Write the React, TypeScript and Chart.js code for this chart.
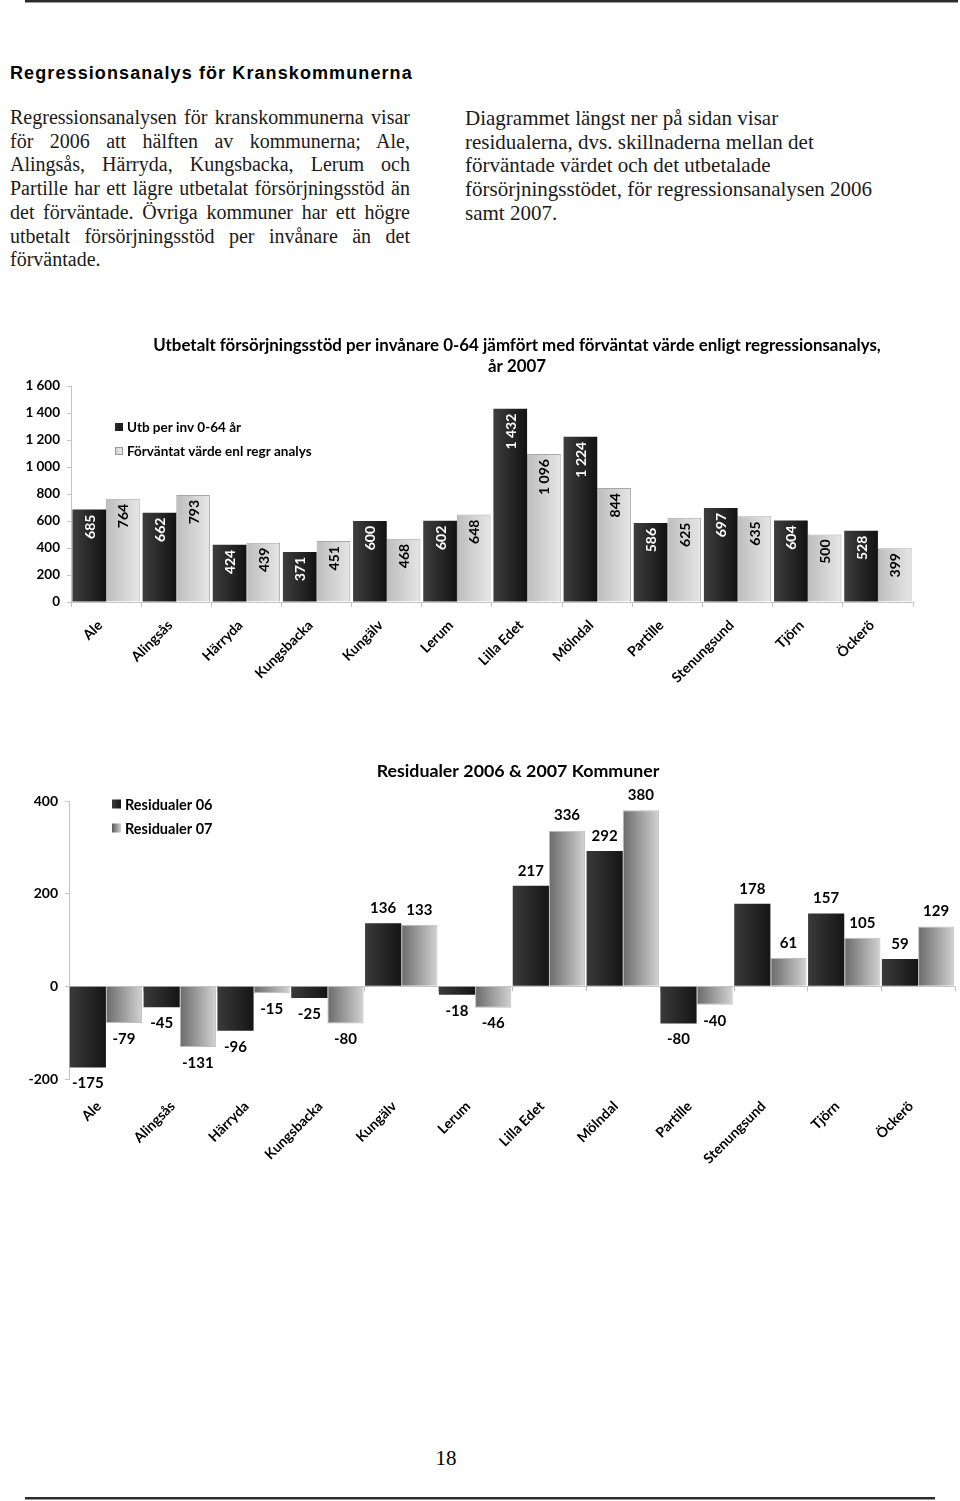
import React, { useEffect, useRef } from "react";
import { Chart, registerables } from "chart.js";
Chart.register(...registerables);

const FONT = "Lato, 'Open Sans', 'DejaVu Sans', sans-serif";
const SERIF = "'Liberation Serif', 'DejaVu Serif', serif";

const categories = ["Ale", "Alingsås", "Härryda", "Kungsbacka", "Kungälv", "Lerum", "Lilla Edet", "Mölndal", "Partille", "Stenungsund", "Tjörn", "Öckerö"];

// Chart 1
const utbLabel = "Utb per inv 0-64 år";
const forvLabel = "Förväntat värde enl regr analys";
const utbPerInv = [685, 662, 424, 371, 600, 602, 1432, 1224, 586, 697, 604, 528];
const forvantat = [764, 793, 439, 451, 468, 648, 1096, 844, 625, 635, 500, 399];
const chart1Title = ["Utbetalt försörjningsstöd per invånare 0-64 jämfört med förväntat värde enligt regressionsanalys,", "år 2007"];
const y1Min = 0;
const y1Max = 1600;
const y1Step = 200;

// Chart 2
const res06Label = "Residualer 06";
const res07Label = "Residualer 07";
const residualer06 = [-175, -45, -96, -25, 136, -18, 217, 292, -80, 178, 157, 59];
const residualer07 = [-79, -131, -15, -80, 133, -46, 336, 380, -40, 61, 105, 129];
const chart2Title = "Residualer 2006 & 2007 Kommuner";
const y2Min = -200;
const y2Max = 400;
const y2Step = 200;

const leftLines = [
  "Regressionsanalysen för kranskommunerna visar",
  "för 2006 att hälften av kommunerna; Ale,",
  "Alingsås, Härryda, Kungsbacka, Lerum och",
  "Partille har ett lägre utbetalat försörjningsstöd än",
  "det förväntade. Övriga kommuner har ett högre",
  "utbetalt försörjningsstöd per invånare än det",
  "förväntade.",
];
const rightLines = [
  "Diagrammet längst ner på sidan visar",
  "residualerna, dvs. skillnaderna mellan det",
  "förväntade värdet och det utbetalade",
  "försörjningsstödet, för regressionsanalysen 2006",
  "samt 2007.",
];

function fmt(v: number) {
  return String(v).replace(/\B(?=(\d{3})+(?!\d))/g, " ");
}

function gradFill(stops: [string, string], side: number, catPct: number) {
  return (c: any) => {
    const chart = c.chart;
    const area = chart.chartArea;
    const xs = chart.scales && chart.scales.x;
    if (!area || !xs || c.dataIndex === undefined) return stops[0];
    const n = chart.data.labels.length;
    const cw = (area.right - area.left) / n;
    const w = (cw * catPct) / 2;
    const center = xs.getPixelForValue(c.dataIndex);
    const x0 = side === 0 ? center - w : center;
    const g = chart.ctx.createLinearGradient(x0, 0, x0 + w, 0);
    g.addColorStop(0, stops[0]);
    g.addColorStop(1, stops[1]);
    return g;
  };
}

function makeTextPlugin(id: string, lines: { text: string; x: number; y: number; size: number }[]) {
  return {
    id,
    afterDraw(chart: any) {
      const ctx = chart.ctx;
      ctx.save();
      ctx.fillStyle = "#000";
      ctx.textAlign = "center";
      ctx.textBaseline = "middle";
      lines.forEach((l) => {
        ctx.font = `bold ${l.size}px ${FONT}`;
        ctx.fillText(l.text, l.x, l.y);
      });
      ctx.restore();
    },
  };
}

function makeLegendPlugin(id: string, items: { label: string; stops: [string, string]; border?: string }[], x: number, y0: number, dy: number, box: number, size: number) {
  return {
    id,
    afterDraw(chart: any) {
      const ctx = chart.ctx;
      ctx.save();
      items.forEach((it, i) => {
        const cy = y0 + i * dy;
        const g = ctx.createLinearGradient(x, 0, x + box, 0);
        g.addColorStop(0, it.stops[0]);
        g.addColorStop(1, it.stops[1]);
        ctx.fillStyle = g;
        ctx.fillRect(x, cy - box / 2, box, box);
        if (it.border) {
          ctx.strokeStyle = it.border;
          ctx.lineWidth = 1;
          ctx.strokeRect(x + 0.5, cy - box / 2 + 0.5, box - 1, box - 1);
        }
        ctx.fillStyle = "#000";
        ctx.font = `bold ${size}px ${FONT}`;
        ctx.textAlign = "left";
        ctx.textBaseline = "middle";
        ctx.fillText(it.label, x + box + 4, cy + 1);
      });
      ctx.restore();
    },
  };
}

const rotatedLabels = {
  id: "rotatedLabels",
  afterDatasetsDraw(chart: any) {
    const ctx = chart.ctx;
    chart.data.datasets.forEach((ds: any, di: number) => {
      const meta = chart.getDatasetMeta(di);
      meta.data.forEach((bar: any, i: number) => {
        const v = ds.data[i] as number;
        ctx.save();
        ctx.translate(bar.x, bar.y + 5);
        ctx.rotate(-Math.PI / 2);
        ctx.textAlign = "right";
        ctx.textBaseline = "middle";
        ctx.fillStyle = di === 0 ? "#ffffff" : "#000000";
        ctx.font = `bold 14px ${FONT}`;
        ctx.fillText(fmt(v), 0, 1);
        ctx.restore();
      });
    });
  },
};

const outsideLabels = {
  id: "outsideLabels",
  afterDatasetsDraw(chart: any) {
    const ctx = chart.ctx;
    chart.data.datasets.forEach((ds: any, di: number) => {
      const meta = chart.getDatasetMeta(di);
      meta.data.forEach((bar: any, i: number) => {
        const v = ds.data[i] as number;
        ctx.save();
        ctx.textAlign = "center";
        ctx.textBaseline = "middle";
        ctx.fillStyle = "#000";
        ctx.font = `bold 15px ${FONT}`;
        ctx.fillText(String(v), bar.x, v >= 0 ? bar.y - 15 : bar.y + 16);
        ctx.restore();
      });
    });
  },
};

const zeroTicks = {
  id: "zeroTicks",
  beforeDatasetsDraw(chart: any) {
    const ctx = chart.ctx;
    const xs = chart.scales.x;
    const ys = chart.scales.y;
    const y0 = ys.getPixelForValue(0);
    const n = chart.data.labels.length;
    ctx.save();
    ctx.strokeStyle = "#c0c0c0";
    ctx.lineWidth = 1;
    for (let i = 0; i <= n; i++) {
      const x = Math.round(xs.getPixelForValue(i - 0.5)) + 0.5;
      ctx.beginPath();
      ctx.moveTo(x, y0);
      ctx.lineTo(x, y0 + 5);
      ctx.stroke();
    }
    ctx.restore();
  },
};

function ChartOne() {
  const ref = useRef<HTMLCanvasElement | null>(null);
  useEffect(() => {
    if (!ref.current) return;
    const cat = 0.96;
    const tickFont = { family: FONT, weight: "bold" as const, size: 14 };
    const chart = new Chart(ref.current, {
      type: "bar",
      data: {
        labels: categories,
        datasets: [
          { label: utbLabel, data: utbPerInv, backgroundColor: gradFill(["#3e3e3e", "#121212"], 0, cat) as any, borderWidth: 0 },
          { label: forvLabel, data: forvantat, backgroundColor: gradFill(["#bdbdbd", "#e6e6e6"], 1, cat) as any, borderColor: "#a8a8a8", borderWidth: 1 },
        ],
      },
      options: {
        animation: false,
        responsive: false,
        maintainAspectRatio: false,
        layout: { padding: { top: 66, right: 47, left: 0, bottom: 0 } },
        datasets: { bar: { categoryPercentage: cat, barPercentage: 1 } },
        plugins: { legend: { display: false }, title: { display: false }, tooltip: { enabled: false } },
        scales: {
          x: {
            grid: { display: true, drawOnChartArea: false, drawTicks: true, tickLength: 5, color: "#c4c4c4", offset: true },
            border: { color: "#c4c4c4" },
            ticks: { minRotation: 45, maxRotation: 45, autoSkip: false, padding: 10, labelOffset: -6, color: "#000", font: tickFont },
            afterFit: (s: any) => { s.height = 118; },
          },
          y: {
            min: y1Min,
            max: y1Max,
            ticks: { stepSize: y1Step, color: "#000", padding: 7, font: { family: FONT, weight: "bold" as const, size: 13.5 }, callback: (v: any) => fmt(Number(v)) },
            grid: { drawOnChartArea: false, tickLength: 4, color: "#c4c4c4" },
            border: { color: "#c4c4c4" },
            afterFit: (s: any) => { s.width = 71; },
          },
        },
      },
      plugins: [
        rotatedLabels,
        makeTextPlugin("title1", [
          { text: chart1Title[0], x: 517, y: 26, size: 16.9 },
          { text: chart1Title[1], x: 517, y: 47, size: 16.9 },
        ]),
        makeLegendPlugin("legend1", [
          { label: utbLabel, stops: ["#2a2a2a", "#1a1a1a"] },
          { label: forvLabel, stops: ["#cfcfcf", "#e8e8e8"], border: "#9a9a9a" },
        ], 115, 107, 24, 8, 13.5),
      ],
    });
    return () => chart.destroy();
  }, []);
  return <canvas ref={ref} width={960} height={400} style={{ position: "absolute", left: 0, top: 320, width: 960, height: 400 }} />;
}

function ChartTwo() {
  const ref = useRef<HTMLCanvasElement | null>(null);
  useEffect(() => {
    if (!ref.current) return;
    const cat = 0.98;
    const chart = new Chart(ref.current, {
      type: "bar",
      data: {
        labels: categories,
        datasets: [
          { label: res06Label, data: residualer06, backgroundColor: gradFill(["#3a3a3a", "#151515"], 0, cat) as any, borderWidth: 0 },
          { label: res07Label, data: residualer07, backgroundColor: gradFill(["#6a6a6a", "#d2d2d2"], 1, cat) as any, borderColor: "#bdbdbd", borderWidth: 1 },
        ],
      },
      options: {
        animation: false,
        responsive: false,
        maintainAspectRatio: false,
        layout: { padding: { top: 51, right: 5, left: 0, bottom: 0 } },
        datasets: { bar: { categoryPercentage: cat, barPercentage: 1 } },
        plugins: { legend: { display: false }, title: { display: false }, tooltip: { enabled: false } },
        scales: {
          x: {
            grid: { display: false },
            border: { display: false },
            ticks: { minRotation: 45, maxRotation: 45, autoSkip: false, padding: 11, labelOffset: -7, color: "#000", font: { family: FONT, weight: "bold" as const, size: 14 } },
            afterFit: (s: any) => { s.height = 91; },
          },
          y: {
            min: y2Min,
            max: y2Max,
            ticks: { stepSize: y2Step, color: "#000", padding: 7, font: { family: FONT, weight: "bold" as const, size: 14 } },
            grid: {
              drawOnChartArea: true,
              tickLength: 4,
              tickColor: "#c4c4c4",
              color: (c: any) => (c.tick && c.tick.value === 0 ? "#c4c4c4" : "rgba(0,0,0,0)"),
            },
            border: { color: "#c4c4c4" },
            afterFit: (s: any) => { s.width = 69; },
          },
        },
      },
      plugins: [
        zeroTicks,
        outsideLabels,
        makeTextPlugin("title2", [{ text: chart2Title, x: 518, y: 21, size: 17.8 }]),
        makeLegendPlugin("legend2", [
          { label: res06Label, stops: ["#3a3a3a", "#151515"] },
          { label: res07Label, stops: ["#5a5a5a", "#d0d0d0"] },
        ], 112, 54, 24, 9, 14.5),
      ],
    });
    return () => chart.destroy();
  }, []);
  return <canvas ref={ref} width={960} height={420} style={{ position: "absolute", left: 0, top: 750, width: 960, height: 420 }} />;
}

export default function App() {
  const lh = 23.7;
  return (
    <div style={{ position: "absolute", left: 0, top: 0, width: 960, height: 1501, overflow: "hidden", background: "#fff" }}>
      <div style={{ position: "absolute", left: 25, top: 0, width: 933, height: 2, background: "#2a2a2a" }} />
      <div style={{ position: "absolute", left: 25, top: 2, width: 933, height: 1, background: "#9a9a9a" }} />
      <div style={{ position: "absolute", left: 10, top: 61, fontFamily: "'Liberation Sans', Arial, sans-serif", fontWeight: "bold", fontSize: 18, letterSpacing: 1.1, lineHeight: "24px", color: "#000", whiteSpace: "nowrap" }}>
        Regressionsanalys för Kranskommunerna
      </div>
      {leftLines.map((t, i) => (
        <div key={"l" + i} style={{ position: "absolute", left: 10, top: 117 + i * lh - 12, width: 400, height: 24, lineHeight: "24px", fontFamily: SERIF, fontSize: 20, color: "#1a1a1a", textAlign: "justify", textAlignLast: i < leftLines.length - 1 ? "justify" : "left" } as any}>
          {t}
        </div>
      ))}
      {rightLines.map((t, i) => (
        <div key={"r" + i} style={{ position: "absolute", left: 465, top: 118 + i * lh - 12, height: 24, lineHeight: "24px", fontFamily: SERIF, fontSize: 21, color: "#1a1a1a", whiteSpace: "nowrap" }}>
          {t}
        </div>
      ))}
      <ChartOne />
      <ChartTwo />
      <div style={{ position: "absolute", left: 0, top: 1446, width: 892, textAlign: "center", fontFamily: SERIF, fontSize: 21, lineHeight: "24px", color: "#000" }}>18</div>
      <div style={{ position: "absolute", left: 25, top: 1497, width: 910, height: 2, background: "#2a2a2a" }} />
      <div style={{ position: "absolute", left: 25, top: 1499, width: 910, height: 1, background: "#9a9a9a" }} />
    </div>
  );
}
